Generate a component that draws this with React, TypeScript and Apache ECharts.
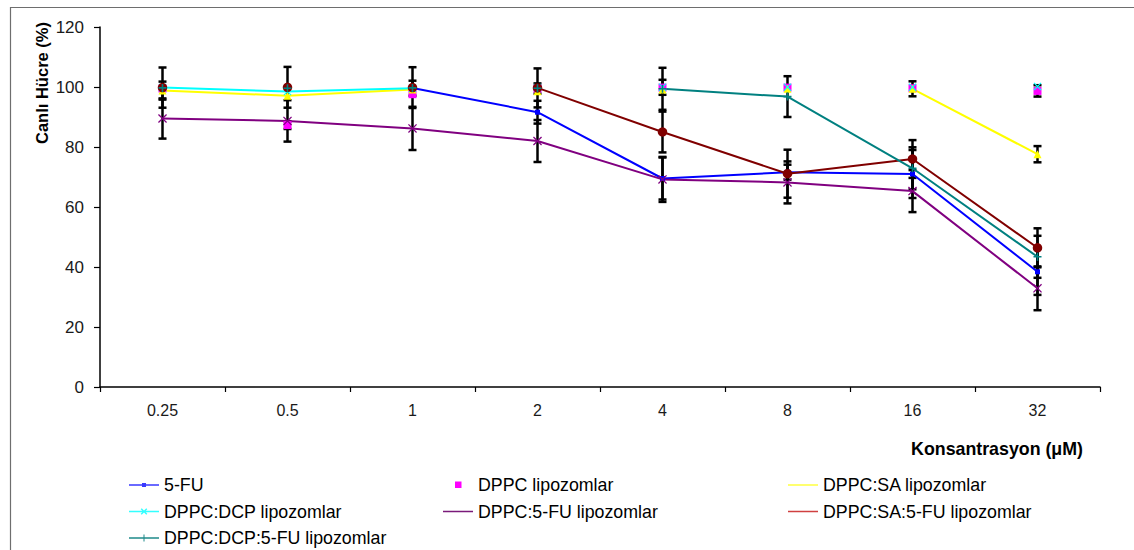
import React, { useEffect, useRef } from "react";
import * as echarts from "echarts";

const FONT = 'Arial, "Liberation Sans", Helvetica, sans-serif';

const categories = ["0.25", "0.5", "1", "2", "4", "8", "16", "32"];
const yTicks = { min: 0, max: 120, interval: 20 };

// 5-FU (blue)
const fuLine = [null, null, 99.7, 91.6, 69.5, 71.6, 71, 38.4];
const fuErr = [0, 0, 0, 3.8, 7, 2.5, 8, 7.7];
// DPPC lipozomlar (magenta markers only)
const dppcPts = [99.5, 87.3, 97.6, 99.5, 99.8, 99.8, 99.6, 98.7];
const dppcErr = [0, 1.3, 0, 1.7, 0, 0, 0, 1.9];
// DPPC:SA lipozomlar (yellow)
const saLine = [98.8, 97.1, 99.2, null, null, null, 99.4, 77.6];
const saPts = [98.8, 97.1, 99.2, 98.6, 99.2, 99.4, 99.4, 77.6];
const saErr = [3, 0, 0, 0, 0, 0, 2.5, 2.7];
// DPPC:DCP lipozomlar (cyan)
const dcpLine = [99.8, 98.5, 99.6, null, null, null, null, null];
const dcpPts = [99.8, 98.5, 99.6, 99.8, 99.9, 99.9, 99.9, 100.2];
const dcpErr = [0, 0, 2.5, 0, 2.5, 0, 0, 0];
// DPPC:5-FU lipozomlar (purple crosses)
const dppcFuLine = [89.5, 88.7, 86.2, 82, 69.2, 68.2, 65.3, 32.9];
const dppcFuErr = [6.7, 6.9, 7.2, 7, 7.5, 7, 7, 7.3];
// DPPC:SA:5-FU lipozomlar (dark red circles)
const saFuLine = [null, null, null, 99.7, 85, 71.1, 76, 46.4];
const saFuPts = [99.8, 99.9, 99.8, 99.7, 85, 71.1, 76, 46.4];
const saFuErr = [6.7, 6.8, 6.8, 6.5, 6.8, 8, 6.3, 6.5];
// DPPC:DCP:5-FU lipozomlar (teal plus)
const dcpFuLine = [null, null, null, null, 99.4, 96.8, 72.9, 43.4];
const dcpFuPts = [99.7, 99.6, 99.7, 99.6, 99.4, 96.8, 72.9, 43.4];
const dcpFuErr = [0, 0, 0, 0, 7, 6.8, 7, 7];

const N_FU = "5-FU";
const N_DPPC = "DPPC lipozomlar";
const N_SA = "DPPC:SA lipozomlar";
const N_DCP = "DPPC:DCP lipozomlar";
const N_DPPCFU = "DPPC:5-FU lipozomlar";
const N_SAFU = "DPPC:SA:5-FU lipozomlar";
const N_DCPFU = "DPPC:DCP:5-FU lipozomlar";

const X_SYM = "path://M0,1L1,0L5,4L9,0L10,1L6,5L10,9L9,10L5,6L1,10L0,9L4,5Z";
const PLUS_SYM = "path://M4,0h2v4h4v2h-4v4h-2v-4h-4v-2h4z";

const BOX = "M0,0h0.01v0.01h-0.01zM29.99,13.99h0.01v0.01h-0.01z";
const LINE = "M0,6.3h30v1.4h-30z";
const ICON_FU = `path://${BOX}${LINE}M13,5h4v4h-4z`;
const ICON_DPPC = `path://${BOX}M12,3.5h6.5v6.5h-6.5z`;
const ICON_LINE = `path://${BOX}${LINE}`;
const ICON_DCP = `path://${BOX}${LINE}M11.7,4.7L12.7,3.7L15,6L17.3,3.7L18.3,4.7L16,7L18.3,9.3L17.3,10.3L15,8L12.7,10.3L11.7,9.3L14,7Z`;
const ICON_DCPFU = `path://${BOX}${LINE}M14.5,3.5h1v7h-1zM11.5,6.5h7v1h-7z`;

function errData(pts: (number | null)[], err: number[]) {
  const out: number[][] = [];
  pts.forEach((v, i) => {
    if (v != null && err[i] > 0) out.push([i, v - err[i], v + err[i]]);
  });
  return out;
}

export default function App() {
  const ref = useRef<HTMLDivElement>(null);
  useEffect(() => {
    document.body.style.margin = "0";
    if (!ref.current) return;
    const chart = echarts.init(ref.current, undefined, { renderer: "svg" });

    const errors = [
      ...errData(fuLine, fuErr),
      ...errData(dppcPts, dppcErr),
      ...errData(saPts, saErr),
      ...errData(dcpPts, dcpErr),
      ...errData(dppcFuLine, dppcFuErr),
      ...errData(saFuPts, saFuErr),
      ...errData(dcpFuPts, dcpFuErr),
    ];

    // legend colours as the reference legend shows them
    const legendColors: Record<string, string> = {
      [N_FU]: "#3a3aff",
      [N_DPPC]: "#ff00ff",
      [N_SA]: "#ffff40",
      [N_DCP]: "#33ffff",
      [N_DPPCFU]: "#7a1a7a",
      [N_SAFU]: "#d04040",
      [N_DCPFU]: "#1f8a8a",
    };

    const lineS = (name: string, data: (number | null)[], color: string) => ({
      type: "line",
      name,
      data,
      symbol: "none",
      connectNulls: false,
      lineStyle: { color, width: 2 },
      itemStyle: { color },
      z: 3,
    });
    const scat = (
      name: string,
      data: (number | null)[],
      color: string,
      symbol: string,
      size: number
    ) => ({
      type: "scatter",
      name,
      data,
      symbol,
      symbolSize: size,
      itemStyle: { color, opacity: 1 },
      z: 4,
    });
    // empty series listed first so that each legend entry takes its colour
    const legendProxies = Object.keys(legendColors).map((name) => ({
      type: "line",
      name,
      data: [],
      symbol: "none",
      silent: true,
      lineStyle: { color: legendColors[name] },
      itemStyle: { color: legendColors[name] },
    }));

    const legendBase = {
      orient: "vertical",
      top: 476,
      height: 120,
      itemWidth: 30,
      itemHeight: 14,
      itemGap: 8.5,
      padding: 0,
      selectedMode: false,
      textStyle: { fontSize: 17.8, fontFamily: FONT, color: "#000" },
    };
    const li = (name: string, icon: string) => ({
      name,
      icon,
      itemStyle: { color: legendColors[name], borderWidth: 0, borderColor: "transparent" },
    });

    chart.setOption({
      animation: false,
      backgroundColor: "#fff",
      grid: { left: 100, right: 34, top: 27, bottom: 163 },
      xAxis: {
        type: "category",
        data: categories,
        boundaryGap: true,
        axisLine: { lineStyle: { color: "#000", width: 1.5 } },
        axisTick: { show: true, length: 5, alignWithLabel: false, lineStyle: { color: "#000", width: 1.2 } },
        axisLabel: { fontSize: 16, fontFamily: FONT, color: "#1a1a1a", margin: 15 },
        splitLine: { show: false },
      },
      yAxis: {
        type: "value",
        min: yTicks.min,
        max: yTicks.max,
        interval: yTicks.interval,
        axisLine: { show: true, lineStyle: { color: "#000", width: 1.5 } },
        axisTick: { show: true, length: 6, lineStyle: { color: "#000", width: 1.2 } },
        axisLabel: { fontSize: 17, fontFamily: FONT, color: "#1a1a1a", margin: 16 },
        splitLine: { show: false },
      },
      legend: [
        {
          ...legendBase,
          left: 129,
          data: [li(N_FU, ICON_FU), li(N_DCP, ICON_DCP), li(N_DCPFU, ICON_DCPFU)],
        },
        {
          ...legendBase,
          left: 443,
          data: [li(N_DPPC, ICON_DPPC), li(N_DPPCFU, ICON_LINE)],
        },
        {
          ...legendBase,
          left: 788,
          data: [li(N_SA, ICON_LINE), li(N_SAFU, ICON_LINE)],
        },
      ],
      graphic: [
        {
          type: "rect",
          left: 8,
          top: 5,
          shape: { width: 1300, height: 700 },
          style: { fill: "none", stroke: "#6e6e6e", lineWidth: 1.2 },
          silent: true,
          z: -10,
        },
        {
          type: "text",
          x: 42,
          y: 83,
          rotation: Math.PI / 2,
          style: {
            text: "Canlı Hücre (%)",
            font: `bold 16.5px ${FONT}`,
            fill: "#000",
            textAlign: "center",
            textVerticalAlign: "middle",
          },
        },
        {
          type: "text",
          x: 1083,
          y: 449,
          style: {
            text: "Konsantrasyon (μM)",
            font: `bold 17.8px ${FONT}`,
            fill: "#000",
            textAlign: "right",
            textVerticalAlign: "middle",
          },
        },
      ],
      series: [
        ...legendProxies,
        {
          type: "custom",
          name: "errors",
          z: 2,
          data: errors,
          encode: { x: 0, y: [1, 2] },
          renderItem: (params: any, api: any) => {
            const x = api.value(0);
            const lo = api.coord([x, api.value(1)]);
            const hi = api.coord([x, api.value(2)]);
            const cw = 4;
            const st = { stroke: "#000", lineWidth: 2.5 };
            return {
              type: "group",
              children: [
                { type: "line", shape: { x1: hi[0], y1: hi[1], x2: lo[0], y2: lo[1] }, style: st },
                { type: "line", shape: { x1: hi[0] - cw, y1: hi[1], x2: hi[0] + cw, y2: hi[1] }, style: st },
                { type: "line", shape: { x1: lo[0] - cw, y1: lo[1], x2: lo[0] + cw, y2: lo[1] }, style: st },
              ],
            };
          },
        },
        lineS(N_FU, fuLine, "#0000ff"),
        lineS(N_SA, saLine, "#ffff00"),
        lineS(N_DCP, dcpLine, "#00ffff"),
        lineS(N_DPPCFU, dppcFuLine, "#800080"),
        lineS(N_SAFU, saFuLine, "#800000"),
        lineS(N_DCPFU, dcpFuLine, "#008080"),
        scat(N_FU, fuLine, "#0000ff", "rect", 5),
        scat(N_DPPC, dppcPts, "#ff00ff", "rect", 8),
        scat(N_SA, saPts, "#ffff00", "triangle", 8),
        scat(N_DCP, dcpPts, "#00ffff", X_SYM, 8),
        scat(N_DPPCFU, dppcFuLine, "#800080", X_SYM, 9),
        scat(N_SAFU, saFuPts, "#800000", "circle", 9.5),
        scat(N_DCPFU, dcpFuPts, "#008080", PLUS_SYM, 8),
      ],
    });
    return () => chart.dispose();
  }, []);
  return <div ref={ref} style={{ width: 1134, height: 550 }} />;
}
